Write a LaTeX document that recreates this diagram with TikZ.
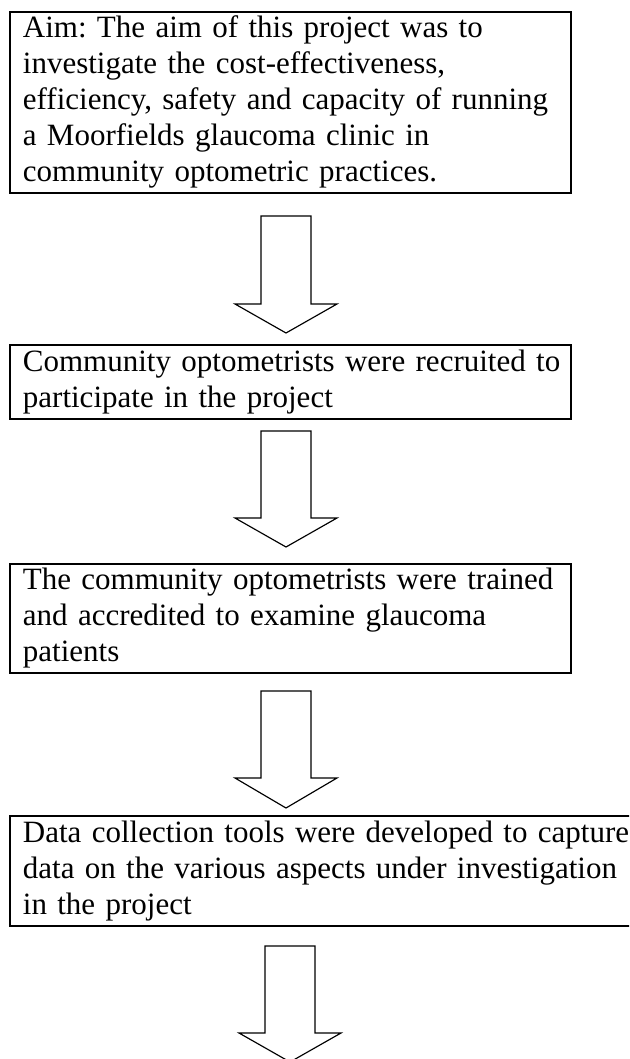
\documentclass[tikz,border=0pt]{standalone}
\usepackage{fontspec}
\setmainfont{Liberation Serif}
\frenchspacing
\def\px{0.387pt}
\newcommand{\oneline}[1]{\mbox{#1}}
\tikzset{
  flowbox/.style={draw=black, line width=0.7pt, rectangle, anchor=north west,
    align=left, inner xsep=13*\px, inner ysep=0.5*\px,
    font=\fontsize{12}{13.94}\selectfont\frenchspacing},
  blockarrow/.style={draw=black, line width=0.45pt, fill=white, line join=miter}
}
% center x, shaft top, head start, tip
\newcommand{\myblockarrow}[4]{%
  \draw[blockarrow] ({#1-25},#2) -- ({#1+25},#2) -- ({#1+25},#3) -- ({#1+51},#3)
    -- (#1,#4) -- ({#1-51},#3) -- ({#1-25},#3) -- cycle;}
\begin{document}
\begin{tikzpicture}[x=0.387pt, y=-0.387pt]
\useasboundingbox (0,0) rectangle (629,1059);
\clip (0,0) rectangle (629,1059);
\node[flowbox, minimum width=561*\px, minimum height=181*\px, text width=535*\px] (b1) at (9,11)
  {\strut\oneline{Aim: The aim of this project was to}\\
   \oneline{investigate the cost-effectiveness,}\\
   \oneline{efficiency, safety and capacity of running}\\
   \oneline{a Moorfields glaucoma clinic in}\\
   \oneline{community optometric practices.}\strut};
\node[flowbox, minimum width=561*\px, minimum height=74*\px, text width=535*\px] (b2) at (9,344)
  {\strut\oneline{Community optometrists were recruited to}\\
   \oneline{participate in the project}\strut};
\node[flowbox, minimum width=561*\px, minimum height=108*\px, text width=535*\px] (b3) at (9,563)
  {\strut\oneline{The community optometrists were trained}\\
   \oneline{and accredited to examine glaucoma}\\
   \oneline{patients}\strut};
\node[flowbox, minimum width=640*\px, minimum height=110*\px, text width=614*\px] (b4) at (9,815)
  {\strut\oneline{Data collection tools were developed to capture}\\
   \oneline{data on the various aspects under investigation}\\
   \oneline{in the project}\strut};
\myblockarrow{286}{216}{304}{333}
\myblockarrow{286}{431}{518}{547}
\myblockarrow{286}{691}{778}{808}
\myblockarrow{290}{946}{1033}{1062}
\end{tikzpicture}
\end{document}
